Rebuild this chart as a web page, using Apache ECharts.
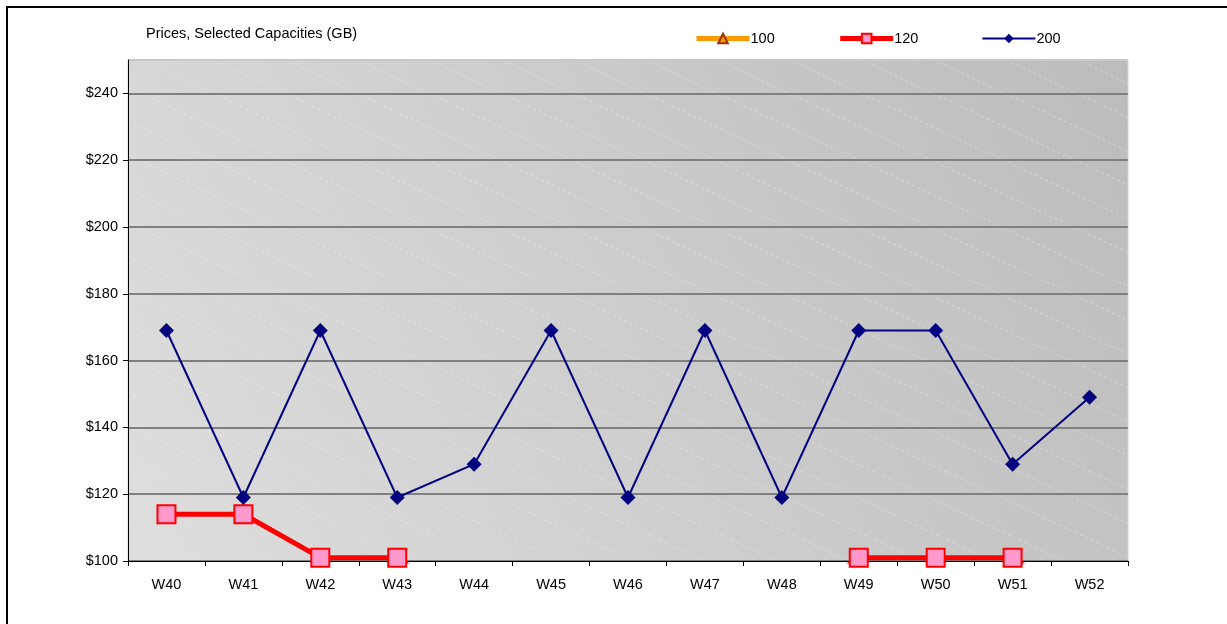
<!DOCTYPE html>
<html>
<head>
<meta charset="utf-8">
<title>Prices, Selected Capacities (GB)</title>
<script src="https://cdn.jsdelivr.net/npm/echarts@6/dist/echarts.min.js"></script>
<style>
  html, body { margin: 0; padding: 0; background: #fff; }
  #chart { width: 1227px; height: 624px; }
</style>
</head>
<body>
<div id="chart"></div>
<script>
// Weekly prices by capacity
const weeks = ['W40', 'W41', 'W42', 'W43', 'W44', 'W45', 'W46', 'W47', 'W48', 'W49', 'W50', 'W51', 'W52'];
const price100 = [89, 89, 89, 89, 79, 89, 79, 89, 79, 89, 89, 79, 79];
const price120 = [114, 114, 101, 101, 84, 84, 84, 84, 84, 101, 101, 101, 84];
const price200 = [169, 119, 169, 119, 129, 169, 119, 169, 119, 169, 169, 129, 149];
const yTicks = { min: 100, max: 250, step: 20 };

const FONT = '"Liberation Sans", Arial, sans-serif';
const FS = 14.5;
const plot = { left: 128, top: 60, width: 1000, height: 501 };

// Plot-area fill: soft diagonal gradient with faint dashed diagonal stripes
function makeBackdrop(w, h) {
  const c = document.createElement('canvas');
  c.width = w; c.height = h;
  const g = c.getContext('2d');
  const grad = g.createLinearGradient(0, h, w, 0);
  grad.addColorStop(0, '#dedede');
  grad.addColorStop(1, '#bcbcbc');
  g.fillStyle = grad;
  g.fillRect(0, 0, w, h);
  g.strokeStyle = 'rgba(255,255,255,0.3)';
  g.lineWidth = 1;
  g.setLineDash([3, 3]);
  const slope = 0.47, gap = 72;
  for (let x0 = -h / slope - gap; x0 < w + gap; x0 += gap) {
    g.beginPath();
    g.moveTo(x0, 0);
    g.lineTo(x0 + h / slope, h);
    g.stroke();
  }
  return c;
}

const splitColors = [];
for (let v = yTicks.min; v < yTicks.max; v += yTicks.step) splitColors.push('#808080');
splitColors.push('#c8c8c8');

const chart = echarts.init(document.getElementById('chart'), null, { renderer: 'canvas' });
chart.setOption({
  animation: false,
  backgroundColor: '#ffffff',
  textStyle: { fontFamily: FONT },
  title: {
    text: 'Prices, Selected Capacities (GB)',
    left: 141, top: 21,
    textStyle: { fontFamily: FONT, fontSize: FS, fontWeight: 'normal', color: '#000' }
  },
  legend: {
    left: 689, top: 26,
    itemWidth: 53, itemHeight: 12, itemGap: 63,
    textStyle: { fontFamily: FONT, fontSize: FS, color: '#000', padding: [0, 0, 0, -4] },
    data: [
      { name: '100', lineStyle: { width: 5, color: '#ff9900' }, itemStyle: { color: '#ff9900', borderColor: '#993300', borderWidth: 2 } },
      { name: '120', lineStyle: { width: 5, color: '#ff0000' }, itemStyle: { color: '#ff99cc', borderColor: '#ff0000', borderWidth: 2 } },
      { name: '200', lineStyle: { width: 2, color: '#000080' }, itemStyle: { color: '#000080' } }
    ]
  },
  graphic: [
    {
      type: 'rect', z: 100, silent: true,
      shape: { x: 7, y: 7, width: 1250, height: 650 },
      style: { fill: 'none', stroke: '#000', lineWidth: 2 }
    },
    {
      type: 'image', z: -10, silent: true,
      left: plot.left, top: plot.top,
      style: { image: makeBackdrop(plot.width, plot.height), width: plot.width, height: plot.height }
    }
  ],
  grid: {
    left: plot.left, top: plot.top, width: plot.width, height: plot.height,
    show: true, backgroundColor: 'transparent', borderColor: '#d4d4d4', borderWidth: 1
  },
  xAxis: {
    type: 'category',
    data: weeks,
    boundaryGap: true,
    axisLine: { lineStyle: { color: '#000', width: 1 } },
    axisTick: { show: true, length: 5, inside: false, lineStyle: { color: '#000' } },
    axisLabel: { fontFamily: FONT, fontSize: FS, color: '#000', margin: 16 },
    splitLine: { show: false }
  },
  yAxis: {
    type: 'value',
    min: yTicks.min, max: yTicks.max, interval: yTicks.step,
    axisLine: { show: true, lineStyle: { color: '#000', width: 1 } },
    axisTick: { show: true, length: 5, lineStyle: { color: '#000' } },
    axisLabel: {
      fontFamily: FONT, fontSize: FS, color: '#000', margin: 10,
      showMaxLabel: false,
      formatter: v => (v === yTicks.max ? '' : '$' + v)
    },
    splitLine: { show: true, lineStyle: { color: splitColors, width: 2 } }
  },
  series: [
    {
      name: '100', type: 'line', data: price100,
      clip: true,
      lineStyle: { color: '#ff9900', width: 4 },
      itemStyle: { color: '#ff9900', borderColor: '#993300', borderWidth: 2 },
      symbol: 'triangle', symbolSize: 10,
      color: '#ff9900', z: 2
    },
    {
      name: '120', type: 'line', data: price120,
      clip: true,
      lineStyle: { color: '#ff0000', width: 5 },
      itemStyle: { color: '#ff99cc', borderColor: '#ff0000', borderWidth: 2 },
      symbol: 'rect', symbolSize: 18,
      color: '#ff0000', z: 3
    },
    {
      name: '200', type: 'line', data: price200,
      clip: true,
      lineStyle: { color: '#000080', width: 2 },
      itemStyle: { color: '#000080', borderColor: '#000080', borderWidth: 0 },
      symbol: 'diamond', symbolSize: 15,
      color: '#000080', z: 4
    }
  ]
});
</script>
</body>
</html>
